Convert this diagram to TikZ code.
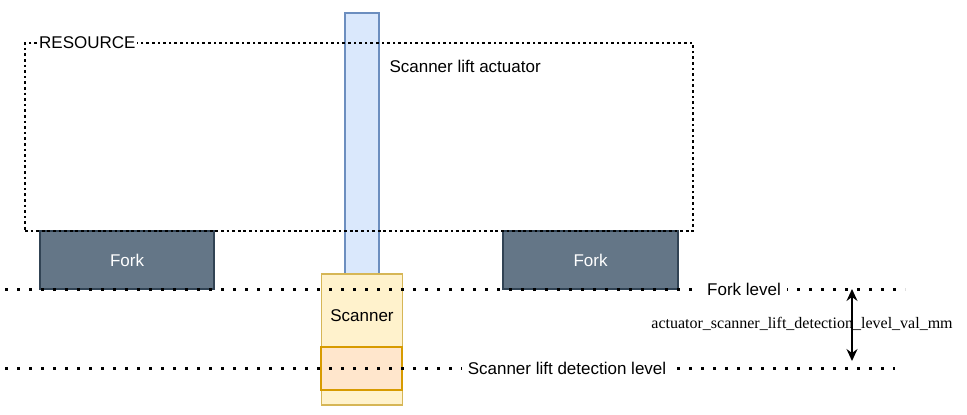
\documentclass[tikz,border=0pt]{standalone}
\usepackage{fontspec}
\setmainfont{Liberation Sans}
\newfontfamily\serifname{Liberation Serif}
\usetikzlibrary{positioning}
\usetikzlibrary{arrows.meta}
\definecolor{forkfill}{HTML}{647687}
\definecolor{forkline}{HTML}{314354}
\definecolor{actfill}{HTML}{DAE8FC}
\definecolor{actline}{HTML}{6C8EBF}
\definecolor{scanfill}{HTML}{FFF2CC}
\definecolor{scanline}{HTML}{D6B656}
\definecolor{detfill}{HTML}{FFE6CC}
\definecolor{detline}{HTML}{D79B00}
\begin{document}
\begin{tikzpicture}[x=1pt,y=-1pt,font=\fontsize{17}{20}\selectfont,
        base/.style={draw,line width=1.3pt,inner sep=0pt,outer sep=0pt,minimum size=0pt,anchor=north west},
        fork/.style={base,fill=forkfill,draw=forkline,text=white,minimum width=175pt,minimum height=58pt},
        level/.style={line width=3pt,dash pattern=on 3pt off 9pt},
        altro/.style={fill=white,inner sep=6pt}]
        \useasboundingbox (0,0) rectangle (967,415);
        \node[base,fill=actfill,draw=actline,minimum width=34pt,minimum height=261pt](act) at (345,13){};
        \node[base,fill=scanfill,draw=scanline,minimum width=81pt,minimum height=131pt,below=0pt of act,anchor=north](scan){};
        \node[base,fill=detfill,draw=detline,minimum width=81pt,minimum height=43pt](det) at (321,347){};
        \node[fork,minimum width=174pt](forka) at (40,231){Fork};
        \node[fork](forkb) at (503,231){Fork};
        \node[below=32pt of scan.north](scantxt){Scanner};
        \node[anchor=west](acttxt) at (386,66){Scanner lift actuator};
        %
        \node[base,draw=black,line width=2.7pt,dash pattern=on 2.7pt off 2.9pt,minimum width=668pt,minimum height=188pt](res) at (25,43){};
        \node[fill=white,inner sep=1pt,anchor=west](restxt) at (38,43){RESOURCE};
        %
        \coordinate(fa) at (5,289);
        \coordinate(fb) at (905,289);
        \coordinate(da) at (5,368);
        \coordinate(db) at (895,368);
        \draw[level] (fa) -- (fb);
        \draw[level] (da) -- (db);
        \node[altro](forklev) at (744,289){Fork level};
        \node[altro](detlev) at (567,368){Scanner lift detection level};
        %
        \coordinate(up) at (852,289);
        \coordinate(dn) at (852,361);
        \node[font=\serifname\fontsize{16}{19}\selectfont](val) at (802,324){actuator\_scanner\_lift\_detection\_level\_val\_mm};
        \draw[line width=1.5pt,{Stealth[length=12pt,width=11pt,inset=4pt]}-{Stealth[length=12pt,width=11pt,inset=4pt]}] (up) -- (dn);
    \end{tikzpicture}
\end{document}
